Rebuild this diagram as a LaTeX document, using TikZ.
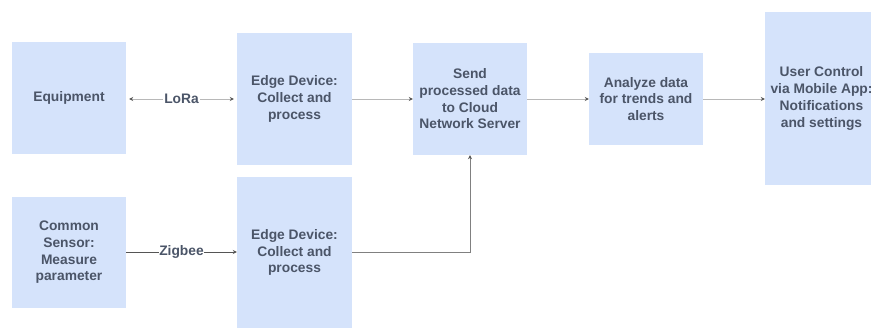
\documentclass[tikz,border=0pt]{standalone}
\usepackage{fontspec}
\setmainfont{Liberation Sans}
\usetikzlibrary{arrows.meta}
\definecolor{boxfill}{HTML}{D5E3FB}
\definecolor{txt}{HTML}{4B5568}
\definecolor{lgray}{HTML}{B8B8B8}
\definecolor{dgray}{HTML}{555555}
\begin{document}
\begin{tikzpicture}[x=1pt,y=-1pt,
  >={Stealth[length=4pt,width=4pt,color=dgray]},
  blk/.style={fill=boxfill,draw=none,inner sep=0pt,align=center,text=txt,
    font=\fontsize{13.8}{16.7}\selectfont\bfseries},
  conn/.style={draw=lgray,line width=0.7pt,->},
  lbl/.style={fill=white,inner sep=1pt,text=txt,font=\fontsize{13.8}{16}\selectfont\bfseries}]
\useasboundingbox (0,0) rectangle (871,327);
\clip (0,0) rectangle (871,327);
\node[blk,minimum width=114pt,minimum height=112pt] (equip) at (69,98) {Equipment};
\node[blk,minimum width=115pt,minimum height=132pt] (edge1) at (294.5,99) {Edge Device:\\Collect and\\process};
\node[blk,minimum width=114pt,minimum height=111pt] (sensor) at (69,252.5) {Common\\Sensor:\\Measure\\parameter};
\node[blk,minimum width=115pt,minimum height=151pt] (edge2) at (294.5,252.5) {Edge Device:\\Collect and\\process};
\node[blk,minimum width=114pt,minimum height=112pt] (send) at (470,99) {Send\\processed data\\to Cloud\\Network Server};
\node[blk,minimum width=114pt,minimum height=92pt] (anal) at (646,99) {Analyze data\\for trends and\\alerts};
\node[blk,minimum width=113pt,minimum height=173pt] (user) at (821.5,98.5) {User Control\\via Mobile App:\\Notifications\\and settings};
\draw[conn,<->,shorten <=3pt,shorten >=3pt] (equip.east |- 0,99) -- node[lbl] (lora) {LoRa} (edge1.west |- 0,99);
\draw[conn,draw=dgray] (sensor.east |- 0,252) -- node[lbl,inner sep=0pt] (zig) {Zigbee} (edge2.west |- 0,252);
\draw[conn] (edge1.east |- 0,99) -- (send.west |- 0,99);
\draw[conn] (send.east |- 0,99) -- (anal.west |- 0,99);
\draw[conn] (anal.east |- 0,99) -- (user.west |- 0,99);
\draw[conn,draw=gray] (edge2.east |- 0,252) -| (send.south);
\end{tikzpicture}
\end{document}
